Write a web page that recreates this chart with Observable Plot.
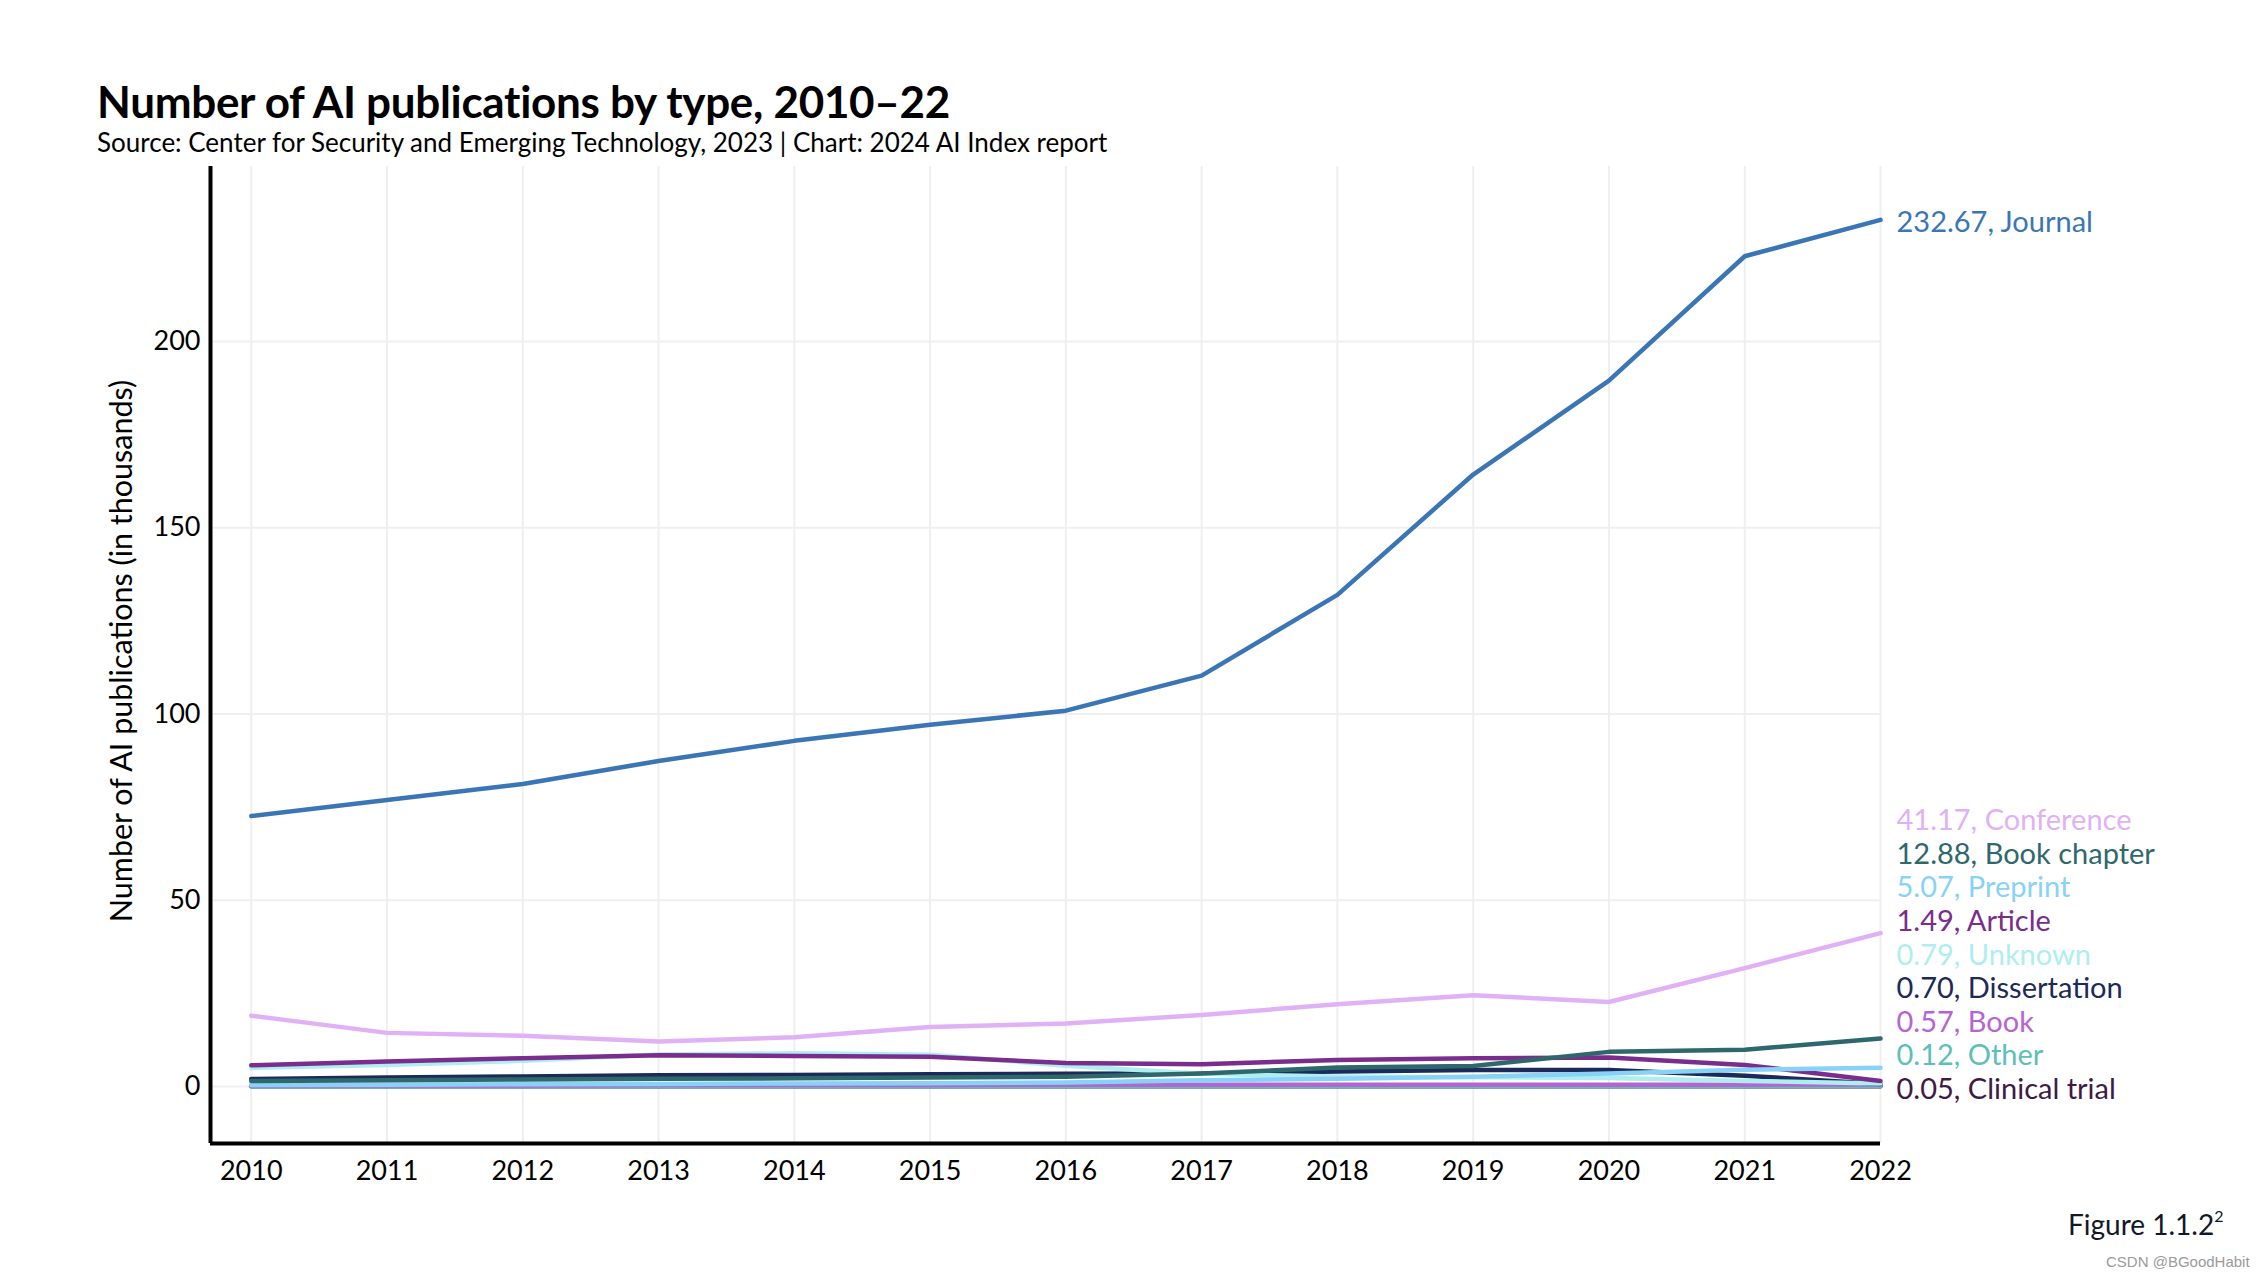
<!DOCTYPE html>
<html><head><meta charset="utf-8">
<script src="https://cdn.jsdelivr.net/npm/d3@7"></script>
<script src="https://cdn.jsdelivr.net/npm/@observablehq/plot@0.6"></script>
<style>
body{margin:0;background:#fff;}
#wrap{position:relative;width:2268px;height:1278px;overflow:hidden;background:#fff;font-family:Lato,"Noto Sans",sans-serif;color:#000;}
#title{position:absolute;left:97px;top:79px;font-size:44px;font-weight:700;line-height:1;white-space:nowrap;letter-spacing:-0.3px;}
#subtitle{position:absolute;left:97px;top:129px;font-size:26px;line-height:1;white-space:nowrap;}
#ylab{position:absolute;left:120px;top:651px;font-size:30.5px;line-height:1;white-space:nowrap;transform:translate(-50%,-50%) rotate(-90deg);}
#fig{position:absolute;left:2068px;top:1210px;font-size:28px;line-height:1;color:#111827;white-space:nowrap;}
#fig sup{font-size:16px;vertical-align:top;position:relative;top:-2px;}
#wm{position:absolute;left:2106px;top:1254px;font-size:15px;line-height:1;color:#9a9a9a;font-family:"Liberation Sans",Arial,sans-serif;white-space:nowrap;}
#chart{position:absolute;left:0;top:150px;}
</style></head>
<body>
<div id="wrap">
  <div id="title">Number of AI publications by type, 2010–22</div>
  <div id="subtitle">Source: Center for Security and Emerging Technology, 2023 | Chart: 2024 AI Index report</div>
  <div id="ylab">Number of AI publications (in thousands)</div>
  <div id="chart"></div>
  <div id="fig">Figure 1.1.2<sup>2</sup></div>
  <div id="wm">CSDN @BGoodHabit</div>
</div>
<script>
const years = [2010,2011,2012,2013,2014,2015,2016,2017,2018,2019,2020,2021,2022];
const journal      = [72.6, 76.9, 81.2, 87.4, 92.8, 97.1, 100.9, 110.3, 132.0, 164.3, 189.5, 222.9, 232.67];
const conference   = [19.0, 14.4, 13.6, 12.1, 13.2, 16.0, 16.9, 19.2, 22.1, 24.5, 22.7, 31.8, 41.17];
const bookChapter  = [1.5, 1.7, 1.9, 2.1, 2.2, 2.4, 2.6, 3.5, 5.1, 5.5, 9.3, 9.9, 12.88];
const preprint     = [0.4, 0.5, 0.6, 0.7, 0.8, 0.9, 1.1, 1.7, 2.1, 2.6, 3.5, 4.5, 5.07];
const article      = [5.7, 6.7, 7.6, 8.4, 8.2, 8.0, 6.3, 6.0, 7.1, 7.6, 7.8, 5.8, 1.49];
const unknown      = [5.0, 5.8, 6.9, 8.6, 8.9, 8.5, 5.6, 3.4, 2.7, 2.5, 2.3, 1.5, 0.79];
const dissertation = [2.0, 2.4, 2.7, 3.0, 3.1, 3.3, 3.4, 3.5, 4.0, 4.4, 4.4, 2.9, 0.70];
const book         = [0.3, 0.3, 0.3, 0.4, 0.4, 0.4, 0.5, 0.5, 0.5, 0.5, 0.5, 0.5, 0.57];
const other        = [0.1, 0.1, 0.1, 0.1, 0.1, 0.1, 0.1, 0.1, 0.1, 0.1, 0.1, 0.1, 0.12];
const clinicalTrial= [0.05,0.05,0.05,0.05,0.05,0.05,0.05,0.05,0.05,0.05,0.05,0.05,0.05];

const seriesNames  = ["Clinical trial","Other","Book","Dissertation","Unknown","Article","Preprint","Book chapter","Conference","Journal"];
const seriesValues = [clinicalTrial, other, book, dissertation, unknown, article, preprint, bookChapter, conference, journal];
const seriesColors = ["#3f1a47","#5cc0b8","#b664d2","#1b2a58","#aeeef0","#7a2d8c","#88d2f8","#2f686c","#e1b1f6","#3a76b6"];
const yTicks = [0,50,100,150,200];
const xDomain = [2009.7, 2022];
const yDomain = [-15.3, 247];

const rows = [];
seriesNames.forEach((name,i)=>years.forEach((yr,j)=>rows.push({name, year:yr, value:seriesValues[i][j]})));

// end labels, dodged upward with a minimum spacing (in data units)
const gap = 9;
const ends = seriesNames.map((name,i)=>({name, value:seriesValues[i][years.length-1], year:years[years.length-1], color:seriesColors[i]}))
  .sort((a,b)=>a.value-b.value);
let prev = -Infinity;
for (const e of ends) { e.ly = Math.max(e.value, prev + gap); prev = e.ly; }

const chart = Plot.plot({
  width: 2268,
  height: 1060,
  marginTop: 16,
  marginBottom: 67,
  marginLeft: 210,
  marginRight: 388,
  style: {fontFamily: "Lato, 'Noto Sans', sans-serif", fontSize: "27px", color: "#000", background: "transparent"},
  x: {domain: xDomain, ticks: years, tickFormat: d => String(d), tickSize: 0, tickPadding: 17, label: null},
  y: {domain: yDomain, ticks: yTicks, tickSize: 0, tickPadding: 10, label: null},
  color: {domain: seriesNames, range: seriesColors},
  marks: [
    Plot.ruleX(years, {stroke: "#efefef", strokeWidth: 2}),
    Plot.ruleY(yTicks, {stroke: "#efefef", strokeWidth: 2}),
    Plot.line(rows, {x: "year", y: "value", z: "name", stroke: "name", strokeWidth: 4.5, strokeLinejoin: "round"}),
    Plot.ruleY([yDomain[0]], {stroke: "#000", strokeWidth: 4}),
    Plot.ruleX([xDomain[0]], {stroke: "#000", strokeWidth: 4}),
    Plot.text(ends, {x: "year", y: "ly", text: d => d.value.toFixed(2) + ", " + d.name, fill: "color", dx: 16, dy: 3, textAnchor: "start", lineAnchor: "middle", fontSize: 29})
  ]
});
document.getElementById("chart").appendChild(chart);
</script>
</body></html>
